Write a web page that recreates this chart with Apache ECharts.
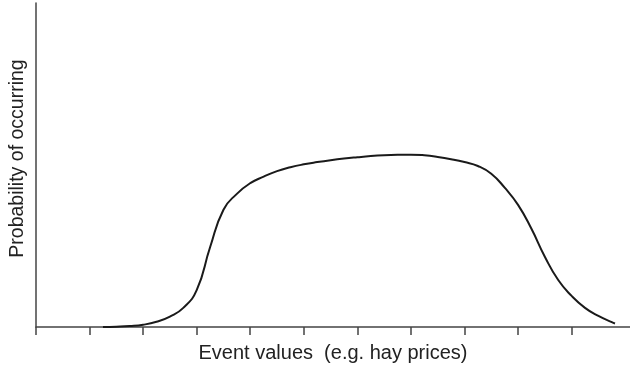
<!DOCTYPE html>
<html>
<head>
<meta charset="utf-8">
<script src="https://cdn.jsdelivr.net/npm/echarts@6/dist/echarts.min.js"></script>
<style>html,body{margin:0;padding:0;background:#fff}#c{width:630px;height:368px}</style>
</head>
<body>
<div id="c"></div>
<script>
var xValues = [1.25, 1.5, 1.75, 2.0, 2.25, 2.5, 2.75, 3.0, 3.25, 3.5, 3.75, 4.0, 4.25, 4.5, 4.75, 5.0, 5.25, 5.5, 5.75, 6.0, 6.25, 6.5, 6.75, 7.0, 7.25, 7.5, 7.75, 8.0, 8.25, 8.5, 8.75, 9.0, 9.25, 9.5, 9.75, 10.0, 10.25, 10.5, 10.75, 10.81];
var probValues = [0, 0.1, 0.3, 0.7, 1.6, 3.2, 5.9, 11.4, 24.6, 36.2, 41.1, 44.4, 46.4, 48.1, 49.3, 50.2, 50.9, 51.5, 52.0, 52.4, 52.75, 53.0, 53.15, 53.2, 53.0, 52.5, 51.8, 50.9, 49.7, 47.3, 43.0, 37.7, 30.3, 21.7, 14.5, 9.6, 5.9, 3.4, 1.5, 1.1];
var tickValues = [0, 1, 2, 3, 4, 5, 6, 7, 8, 9, 10];
var xTitle = 'Event values  (e.g. hay prices)';
var yTitle = 'Probability of occurring';

var data = xValues.map(function (x, i) { return [x, probValues[i]]; });
var chart = echarts.init(document.getElementById('c'), null, {renderer: 'canvas'});
var axisColor = '#444';
chart.setOption({
  animation: false,
  grid: {left: 36, right: 0, top: 3, bottom: 41, containLabel: false},
  graphic: [{
    type: 'text', x: 18, y: 158.5, rotation: Math.PI / 2,
    style: {text: yTitle, fontFamily: 'Liberation Sans', fontSize: 19.5, fill: '#222', align: 'center', verticalAlign: 'middle'}
  }],
  xAxis: {
    type: 'value', min: 0, max: 11.09,
    name: xTitle, nameLocation: 'middle', nameGap: 16,
    nameTextStyle: {fontFamily: 'Liberation Sans', fontSize: 20, color: '#222'},
    axisLine: {show: true, lineStyle: {color: axisColor, width: 1.5}},
    axisTick: {show: true, inside: false, length: 8, customValues: tickValues, lineStyle: {color: axisColor, width: 1.5}},
    axisLabel: {show: false},
    splitLine: {show: false}
  },
  yAxis: {
    type: 'value', min: 0, max: 100,
    axisLine: {show: true, onZero: false, lineStyle: {color: axisColor, width: 1.5}},
    axisTick: {show: false},
    axisLabel: {show: false},
    splitLine: {show: false}
  },
  series: [{
    type: 'line', data: data, smooth: 0.5, showSymbol: false,
    lineStyle: {color: '#1a1a1a', width: 2}
  }]
});
</script>
</body>
</html>
